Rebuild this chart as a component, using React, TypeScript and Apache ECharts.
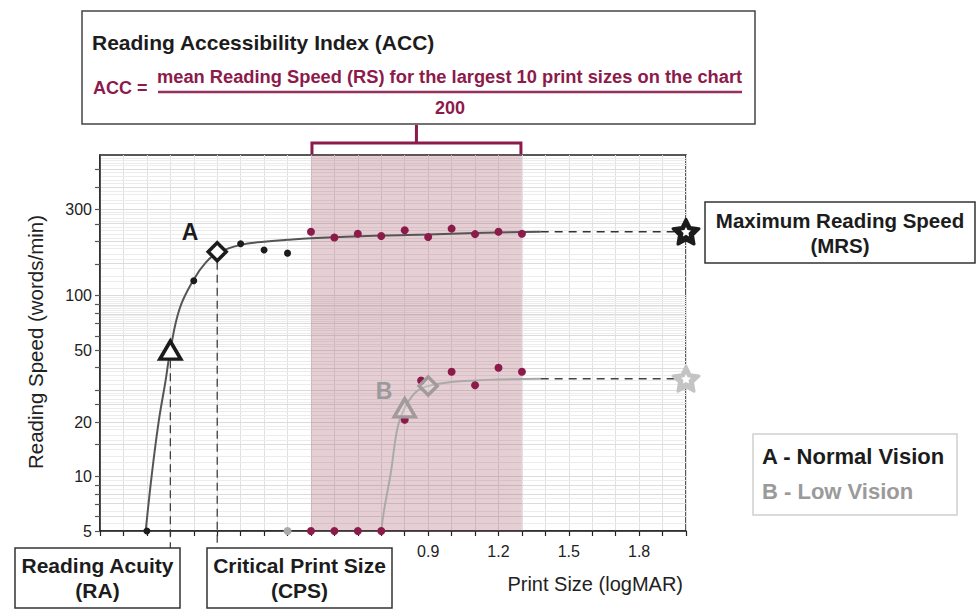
import React, { useEffect, useRef } from "react";
import * as echarts from "echarts";

// ---------- data ----------
const xMin = -0.5;
const xMax = 2.0;
const xInterval = 0.1;
const xLabelValues = [0.9, 1.2, 1.5, 1.8];

const yMin = 5;
const yMax = 600;
const yLabelValues = [5, 10, 20, 50, 100, 300];
const yTickValues = [5, 6, 7, 8, 9, 10, 15, 20, 25, 30, 40, 50, 60, 70, 80, 90, 100, 150, 200, 250, 300, 400, 500];
const yMinorGrid = [
  5.5, 6.5, 7.5, 8.5, 9.5, 11, 12, 13, 14, 16, 17, 18, 19, 21, 22, 23, 24, 26, 27, 28, 29,
  32, 34, 36, 38, 42, 44, 46, 48, 52, 54, 56, 58, 62, 64, 66, 68, 72, 74, 76, 78, 82, 84, 86, 88,
  92, 94, 96, 98, 110, 120, 130, 140, 160, 170, 180, 190, 210, 220, 230, 240, 260, 270, 280, 290,
  320, 340, 360, 380, 420, 440, 460, 480, 520, 540, 560, 580,
];

// Normal vision (A)
const curveA = [
  [-0.305, 5], [-0.28, 10], [-0.25, 20], [-0.22, 34], [-0.2, 50], [-0.16, 85], [-0.1, 123],
  [-0.05, 152], [0, 172], [0.1, 191], [0.2, 199], [0.3, 204], [0.4, 208], [0.7, 215],
  [0.9, 218], [1.1, 222], [1.38, 226],
];
const blackDotsA = [[-0.3, 5], [-0.1, 121], [0.1, 194], [0.2, 179], [0.3, 172]];
const largestPrintSizes = [0.4, 0.5, 0.6, 0.7, 0.8, 0.9, 1.0, 1.1, 1.2, 1.3];
const speedsA = [226, 210, 220, 214, 230, 211, 235, 219, 226, 220];
const raA = [-0.2, 50];
const cpsA = [0, 175];
const mrsA = 226;

// Low vision (B)
const curveB = [
  [0.7, 5], [0.71, 6.3], [0.74, 10.4], [0.77, 18.8], [0.8, 24], [0.85, 29.5], [0.9, 31.7],
  [1.0, 33.3], [1.1, 34], [1.2, 34.4], [1.38, 34.7],
];
const greyDotsB = [[0.3, 5]];
const speedsBx = [0.4, 0.5, 0.6, 0.7, 0.8, 0.87, 1.0, 1.1, 1.2, 1.3];
const speedsB = [5, 5, 5, 5, 20.6, 34, 38, 32, 40, 38];
const raB = [0.8, 24];
const cpsB = [0.9, 31.7];
const mrsB = 34.7;

const curveEnd = 1.38;
const shadeRange = [0.4, 1.3];

// ---------- style ----------
const CRIMSON = "#8c1a4b";
const FONT = "'Liberation Sans', Arial, Helvetica, sans-serif";
const STAR =
  "path://M50,0 L64.69,29.78 L97.55,34.55 L73.78,57.73 L79.39,90.45 L50,75 L20.61,90.45 L26.22,57.73 L2.45,34.55 L35.31,29.78 Z";

const L = (v: number) => Math.log10(v);
const pt = (p: number[]) => [p[0], L(p[1])];

export default function App() {
  const ref = useRef<HTMLDivElement>(null);

  useEffect(() => {
    if (!ref.current) return;
    const chart = echarts.init(ref.current, null, { renderer: "svg" });

    const gridLineData = [
      ...yMinorGrid.map((v) => ({ yAxis: L(v), lineStyle: { color: "#ececec", width: 1, type: "solid" } })),
      ...yTickValues.map((v) => ({ yAxis: L(v), lineStyle: { color: "#dcdcdc", width: 1, type: "solid" } })),
    ];

    const starSeries = (name: string, y: number, size: number, color: string, border: number, z: number) => ({
      name,
      type: "scatter",
      data: [pt([xMax, y])],
      symbol: STAR,
      symbolSize: size,
      symbolKeepAspect: true,
      itemStyle: { color, opacity: 1, borderColor: color, borderWidth: border, borderJoin: "round" },
      clip: false,
      silent: true,
      z,
    });

    const option: any = {
      animation: false,
      backgroundColor: "#ffffff",
      grid: {
        left: 100,
        top: 155,
        width: 586,
        height: 376,
        show: true,
        borderColor: "#222",
        borderWidth: 1.5,
        containLabel: false,
        outerBoundsMode: "none",
      },
      xAxis: {
        type: "value",
        min: xMin,
        max: xMax,
        interval: xInterval,
        axisLine: { show: true, onZero: false, lineStyle: { color: "#222", width: 1.5 } },
        axisTick: { show: true, length: 5, lineStyle: { color: "#222", width: 1.2 } },
        axisLabel: {
          customValues: xLabelValues,
          formatter: (v: number) => v.toFixed(1),
          fontSize: 16,
          color: "#222",
          fontFamily: FONT,
          margin: 12,
        },
        splitLine: { show: true, lineStyle: { color: "#e0e0e0", width: 1 } },
      },
      yAxis: {
        type: "value",
        min: L(yMin),
        max: L(yMax),
        axisLine: { show: true, onZero: false, lineStyle: { color: "#222", width: 1.5 } },
        axisTick: {
          show: true,
          length: 5,
          customValues: yTickValues.map(L),
          lineStyle: { color: "#555", width: 1.2 },
        },
        axisLabel: {
          customValues: yLabelValues.map(L),
          formatter: (v: number) => String(Math.round(Math.pow(10, v))),
          fontSize: 16,
          color: "#222",
          fontFamily: FONT,
          margin: 8,
        },
        splitLine: { show: false },
      },
      series: [
        {
          name: "grid",
          type: "line",
          data: [],
          z: 1,
          silent: true,
          markLine: {
            z: 0,
            silent: true,
            symbol: ["none", "none"],
            label: { show: false },
            data: gridLineData,
          },
        },
        {
          name: "shade",
          type: "line",
          data: [],
          z: 1,
          silent: true,
          markArea: {
            z: 1,
            silent: true,
            itemStyle: { color: "rgba(160,70,90,0.26)" },
            data: [[{ xAxis: shadeRange[0] }, { xAxis: shadeRange[1] }]],
          },
        },
        {
          name: "curveA",
          type: "line",
          data: curveA.map(pt),
          smooth: 0.4,
          showSymbol: false,
          symbol: "none",
          lineStyle: { color: "#555", width: 2 },
          z: 3,
        },
        {
          name: "curveB",
          type: "line",
          data: curveB.map(pt),
          smooth: 0.4,
          showSymbol: false,
          symbol: "none",
          lineStyle: { color: "#aaa", width: 2 },
          z: 3,
        },
        {
          name: "mrsA-dash",
          type: "line",
          data: [pt([curveEnd, mrsA]), pt([xMax, mrsA])],
          symbol: "none",
          lineStyle: { color: "#333", width: 1.5, type: [8, 6] },
          z: 3,
        },
        {
          name: "mrsB-dash",
          type: "line",
          data: [pt([curveEnd, mrsB]), pt([xMax, mrsB])],
          symbol: "none",
          lineStyle: { color: "#444", width: 1.5, type: [8, 6] },
          z: 3,
        },
        {
          name: "dotsA",
          type: "scatter",
          data: blackDotsA.map(pt),
          symbolSize: 7,
          itemStyle: { color: "#1c1c1c", opacity: 1 },
          clip: false,
          z: 4,
        },
        {
          name: "greyB",
          type: "scatter",
          data: greyDotsB.map(pt),
          symbolSize: 8,
          itemStyle: { color: "#aaa", opacity: 1 },
          clip: false,
          z: 4,
        },
        {
          name: "rsA",
          type: "scatter",
          data: largestPrintSizes.map((x, i) => [x, L(speedsA[i])]),
          symbolSize: 8,
          itemStyle: { color: CRIMSON, opacity: 1 },
          clip: false,
          z: 4,
        },
        {
          name: "rsB",
          type: "scatter",
          data: speedsBx.map((x, i) => [x, L(speedsB[i])]),
          symbolSize: 8,
          itemStyle: { color: CRIMSON, opacity: 1 },
          clip: false,
          z: 4,
        },
        {
          name: "raA",
          type: "scatter",
          data: [pt(raA)],
          symbol: "triangle",
          symbolSize: [21, 18],
          itemStyle: { color: "#fff", borderColor: "#1c1c1c", borderWidth: 3.5, opacity: 1 },
          z: 5,
        },
        {
          name: "cpsA",
          type: "scatter",
          data: [pt(cpsA)],
          symbol: "diamond",
          symbolSize: [18, 18],
          itemStyle: { color: "#fff", borderColor: "#1c1c1c", borderWidth: 3.5, opacity: 1 },
          z: 5,
        },
        {
          name: "raB",
          type: "scatter",
          data: [pt(raB)],
          symbol: "triangle",
          symbolSize: [21, 18],
          itemStyle: { color: "rgba(255,255,255,0.2)", borderColor: "#a39a9d", borderWidth: 3.5, opacity: 1 },
          z: 5,
        },
        {
          name: "cpsB",
          type: "scatter",
          data: [pt(cpsB)],
          symbol: "diamond",
          symbolSize: [18, 18],
          itemStyle: { color: "rgba(255,255,255,0.2)", borderColor: "#a39a9d", borderWidth: 3.5, opacity: 1 },
          z: 5,
        },
        starSeries("starA", mrsA, 26, "#1c1c1c", 3, 6),
        starSeries("starAin", mrsA, 10, "#ffffff", 0, 7),
        starSeries("starB", mrsB, 26, "#c4c4c4", 3, 6),
        starSeries("starBin", mrsB, 10, "#ffffff", 0, 7),
      ],
    };

    chart.setOption(option);

    const px = (p: number[]) => chart.convertToPixel({ gridIndex: 0 }, pt(p)) as number[];
    const raPx = px(raA);
    const cpsPx = px(cpsA);
    const sL = px([shadeRange[0], yMax]);
    const sR = px([shadeRange[1], yMax]);
    const midX = (sL[0] + sR[0]) / 2;
    const boxTop = 548;

    const txt = (x: number, y: number, text: string, o: any = {}) => ({
      type: "text",
      x,
      y,
      z: 20,
      style: {
        text,
        fill: o.fill || "#1c1c1c",
        fontSize: o.fontSize || 19,
        fontWeight: o.fontWeight || "bold",
        fontFamily: FONT,
        align: o.align || "center",
        verticalAlign: "middle",
      },
      rotation: o.rotation || 0,
    });
    const box = (x: number, y: number, w: number, h: number, stroke = "#333", lw = 1.5) => ({
      type: "rect",
      z: 15,
      shape: { x, y, width: w, height: h },
      style: { fill: "#fff", stroke, lineWidth: lw },
    });

    const graphic: any[] = [
      // dashed drop lines
      {
        type: "line",
        z: 1,
        shape: { x1: raPx[0], y1: raPx[1] + 10, x2: raPx[0], y2: boxTop },
        style: { stroke: "#333", lineWidth: 1.2, lineDash: [8, 5] },
      },
      {
        type: "line",
        z: 1,
        shape: { x1: cpsPx[0], y1: cpsPx[1] + 10, x2: cpsPx[0], y2: boxTop },
        style: { stroke: "#333", lineWidth: 1.2, lineDash: [8, 5] },
      },
      // bracket
      {
        type: "polyline",
        z: 20,
        shape: { points: [[sL[0] + 1, sL[1] - 1], [sL[0] + 1, 143], [sR[0] - 1, 143], [sR[0] - 1, sR[1] - 1]] },
        style: { stroke: CRIMSON, lineWidth: 3, fill: null },
      },
      {
        type: "line",
        z: 20,
        shape: { x1: midX, y1: 143, x2: midX, y2: 125 },
        style: { stroke: CRIMSON, lineWidth: 3 },
      },
      // top box
      box(82, 11, 673, 113, "#444", 1.5),
      txt(92, 42, "Reading Accessibility Index (ACC)", { align: "left", fontSize: 21 }),
      txt(93, 88, "ACC =", { align: "left", fontSize: 18, fill: CRIMSON }),
      txt(157, 76, "mean Reading Speed (RS) for the largest 10 print sizes on the chart", {
        align: "left",
        fontSize: 18.3,
        fill: CRIMSON,
      }),
      {
        type: "line",
        z: 20,
        shape: { x1: 158, y1: 92, x2: 742, y2: 92 },
        style: { stroke: CRIMSON, lineWidth: 2.6, opacity: 0.9 },
      },
      txt(450, 108, "200", { fontSize: 18, fill: CRIMSON }),
      // MRS box
      box(705, 202, 270, 61, "#333", 1.5),
      txt(840, 220, "Maximum Reading Speed", { fontSize: 20.5 }),
      txt(840, 245, "(MRS)", { fontSize: 20.5 }),
      // legend box
      box(753, 434, 204, 81, "#cfcfcf", 1.5),
      txt(762, 456, "A - Normal Vision", { align: "left", fontSize: 22 }),
      txt(762, 491, "B - Low Vision", { align: "left", fontSize: 22, fill: "#9a9a9a" }),
      // bottom boxes
      box(15, 548, 165, 60, "#333", 1.5),
      txt(97.5, 565, "Reading Acuity", { fontSize: 21 }),
      txt(97.5, 590, "(RA)", { fontSize: 21 }),
      box(207, 548, 185, 60, "#333", 1.5),
      txt(299.5, 565, "Critical Print Size", { fontSize: 21 }),
      txt(299.5, 590, "(CPS)", { fontSize: 21 }),
      // axis titles
      txt(683, 584, "Print Size (logMAR)", { align: "right", fontSize: 20, fontWeight: "normal", fill: "#222" }),
      txt(35, 342, "Reading Speed (words/min)", {
        fontSize: 20.5,
        fontWeight: "normal",
        fill: "#222",
        rotation: Math.PI / 2,
      }),
      // curve labels
      txt(190, 232, "A", { fontSize: 23 }),
      txt(384, 391, "B", { fontSize: 23, fill: "#9a9a9a" }),
    ];

    chart.setOption({ graphic });

    return () => chart.dispose();
  }, []);

  return (
    <div
      ref={ref}
      style={{ position: "fixed", left: 0, top: 0, width: 980, height: 615, background: "#fff" }}
    />
  );
}
